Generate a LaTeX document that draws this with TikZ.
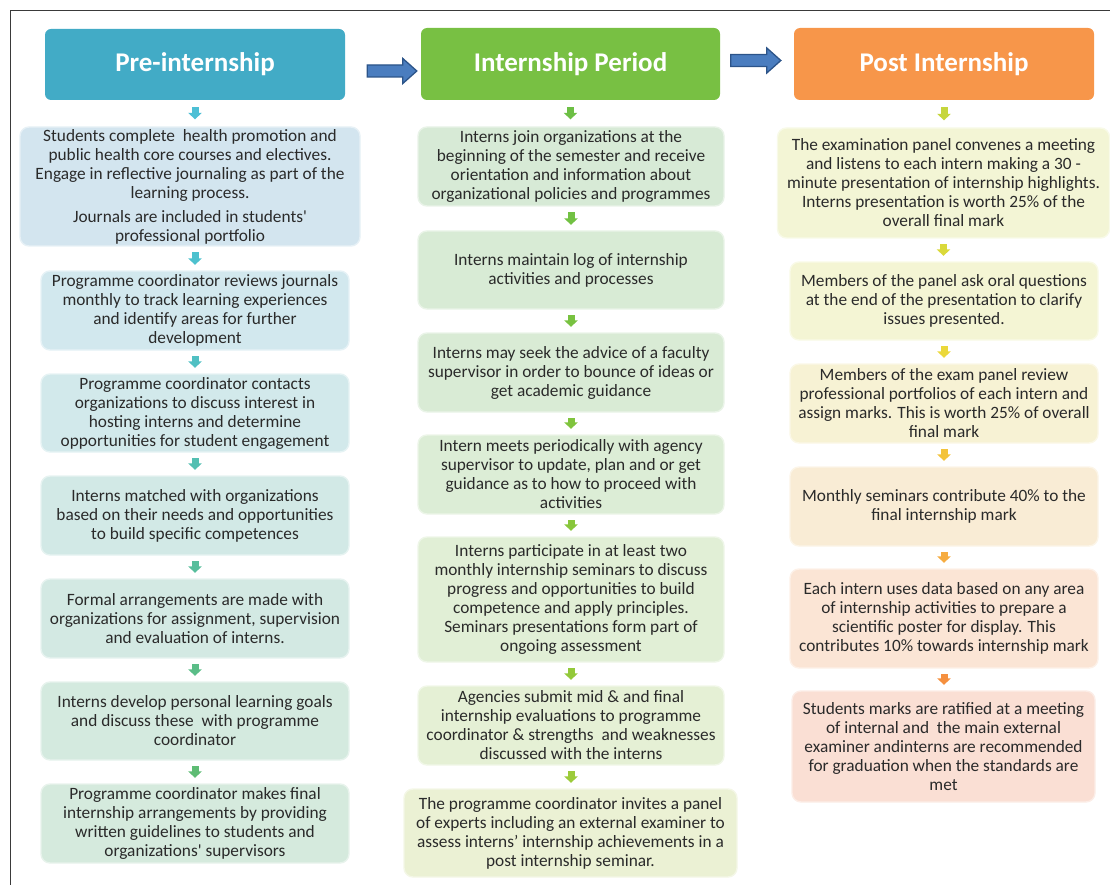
\documentclass[tikz,border=0pt]{standalone}
\usepackage{fontspec}
\setmainfont{Carlito}[Ligatures=TeXOff]
\usetikzlibrary{arrows.meta,calc}

% heading colours
\definecolor{hA}{HTML}{42ABC6}
\definecolor{hB}{HTML}{78C043}
\definecolor{hC}{HTML}{F7964A}
% card fills, column 1
\definecolor{cAa}{HTML}{D3E5EF}
\definecolor{cAb}{HTML}{D2E8EE}
\definecolor{cAc}{HTML}{D2E9EB}
\definecolor{cAd}{HTML}{D2E9E6}
\definecolor{cAe}{HTML}{D3E9E3}
\definecolor{cAf}{HTML}{D4EADF}
\definecolor{cAg}{HTML}{D5EADD}
% card fills, column 2
\definecolor{cBa}{HTML}{D7EAD6}
\definecolor{cBb}{HTML}{D8EBD5}
\definecolor{cBc}{HTML}{D9EBD5}
\definecolor{cBd}{HTML}{DCEDD6}
\definecolor{cBe}{HTML}{E1EFD6}
\definecolor{cBf}{HTML}{E5F0D5}
\definecolor{cBg}{HTML}{EBF1D4}
% card fills, column 3
\definecolor{cCa}{HTML}{F3F5D5}
\definecolor{cCb}{HTML}{F4F5D4}
\definecolor{cCc}{HTML}{F7F2D4}
\definecolor{cCd}{HTML}{F9ECD5}
\definecolor{cCe}{HTML}{FBE5D5}
\definecolor{cCf}{HTML}{FADFD4}
% small arrow colours
\definecolor{aA1}{HTML}{4DBFD5}
\definecolor{aA2}{HTML}{4DC1CE}
\definecolor{aA3}{HTML}{50C0C3}
\definecolor{aA4}{HTML}{53BFB2}
\definecolor{aA5}{HTML}{57BE9C}
\definecolor{aA6}{HTML}{5ABD87}
\definecolor{aA7}{HTML}{5EBC74}
\definecolor{aB1}{HTML}{6DBF45}
\definecolor{aB2}{HTML}{72C143}
\definecolor{aB3}{HTML}{78C240}
\definecolor{aB4}{HTML}{80C43D}
\definecolor{aB5}{HTML}{88C63B}
\definecolor{aB6}{HTML}{93C93A}
\definecolor{aB7}{HTML}{9CCB3A}
\definecolor{aC1}{HTML}{C6D63C}
\definecolor{aC2}{HTML}{DAD93A}
\definecolor{aC3}{HTML}{EBD83A}
\definecolor{aC4}{HTML}{F3C33A}
\definecolor{aC5}{HTML}{F6AC40}
\definecolor{aC6}{HTML}{F5903F}
% ink and block arrows
\definecolor{ink}{HTML}{2A2A2A}
\definecolor{frame}{HTML}{3A3A3A}
\definecolor{bigfill}{HTML}{4A7DBF}
\definecolor{bigline}{HTML}{2C5489}

\newcommand\apos{'}

\begin{document}
\begin{tikzpicture}[x=1pt,y=-1pt,
  heading/.style={fill=#1, rounded corners=6, inner sep=0,
    text=white, font=\fontsize{27}{32}\selectfont\bfseries},
  card/.style={fill=#1, draw=#1!55!white, line width=1.4, rounded corners=9,
    inner sep=0, text=ink, align=center,
    font=\fontsize{17.3}{19}\selectfont},
  downarr/.style={draw=#1, line width=7,
    -{Triangle[width=13.5pt,length=6.5pt]},
    shorten <=5.5pt, shorten >=5.5pt},
  bigarr/.style={fill=bigfill, draw=bigline, line width=1.3, line join=miter}
]
\useasboundingbox (0,0) rectangle (1110,885);

% outer frame (top and left edges)
\draw[frame, line width=1.3] (1110,10.5) -- (10.5,10.5) -- (10.5,885);

% ---------------- headings ----------------
\node[heading=hA, minimum width=300, minimum height=71] (H1) at (195,64.5) {Pre-internship};
\node[heading=hB, minimum width=299, minimum height=72] (H2) at (570.5,64) {Internship Period};
\node[heading=hC, minimum width=300, minimum height=72] (H3) at (944,64) {Post Internship};

% ---------------- column 1 ----------------
\node[card=cAa, minimum width=340, minimum height=119] (A1) at (190,186.5)
 {Students complete~ health promotion and\\
  public health core courses and electives.\\
  Engage in reflective journaling as part of the\\
  learning process.\\[5pt]
  Journals are included in students\apos\\
  professional portfolio};
\node[card=cAb, minimum width=308, minimum height=79] (A2) at (195,310.5)
 {Programme coordinator reviews journals\\
  monthly to track learning experiences\\
  and identify areas for further\\
  development};
\node[card=cAc, minimum width=308, minimum height=78] (A3) at (195,413)
 {Programme coordinator contacts\\
  organizations to discuss interest in\\
  hosting interns and determine\\
  opportunities for student engagement};
\node[card=cAd, minimum width=308, minimum height=79] (A4) at (195,515.5)
 {Interns matched with organizations\\
  based on their needs and opportunities\\
  to build specific competences};
\node[card=cAe, minimum width=308, minimum height=79] (A5) at (195,618.5)
 {Formal arrangements are made with\\
  organizations for assignment, supervision\\
  and evaluation of interns.};
\node[card=cAf, minimum width=308, minimum height=78] (A6) at (195,721)
 {Interns develop personal learning goals\\
  and discuss these~ with programme\\
  coordinator};
\node[card=cAg, minimum width=308, minimum height=79] (A7) at (195,823.5)
 {Programme coordinator makes final\\
  internship arrangements by providing\\
  written guidelines to students and\\
  organizations\apos\ supervisors};

% ---------------- column 2 ----------------
\node[card=cBa, minimum width=306, minimum height=79] (B1) at (571,166.5)
 {Interns join organizations at the\\
  beginning of the semester and receive\\
  orientation and information about\\
  organizational policies and programmes};
\node[card=cBb, minimum width=306, minimum height=78] (B2) at (571,270)
 {Interns maintain log of internship\\
  activities and processes};
\node[card=cBc, minimum width=306, minimum height=79] (B3) at (571,372.5)
 {Interns may seek the advice of a faculty\\
  supervisor in order to bounce of ideas or\\
  get academic guidance};
\node[card=cBd, minimum width=306, minimum height=79] (B4) at (571,474.5)
 {Intern meets periodically with agency\\
  supervisor to update, plan and or get\\
  guidance as to how to proceed with\\
  activities};
\node[card=cBe, minimum width=306, minimum height=125] (B5) at (571,599.5)
 {Interns participate in at least two\\
  monthly internship seminars to discuss\\
  progress and opportunities to build\\
  competence and apply principles.\\
  Seminars presentations form part of\\
  ongoing assessment};
\node[card=cBf, minimum width=306, minimum height=79] (B6) at (571,725.5)
 {Agencies submit mid \& and final\\
  internship evaluations to programme\\
  coordinator \& strengths~ and weaknesses\\
  discussed with the interns};
\node[card=cBg, minimum width=333, minimum height=88] (B7) at (570.5,833)
 {The programme coordinator invites a panel\\
  of experts including an external examiner to\\
  assess interns’ internship achievements in a\\
  post internship seminar.};

% ---------------- column 3 ----------------
\node[card=cCa, minimum width=332, minimum height=110] (C1) at (943.5,183)
 {The examination panel convenes a meeting\\
  and listens to each intern making a 30 -\\
  minute presentation of internship highlights.\\
  Interns presentation is worth 25\% of the\\
  overall final mark};
\node[card=cCb, minimum width=308, minimum height=78] (C2) at (944,301)
 {Members of the panel ask oral questions\\
  at the end of the presentation to clarify\\
  issues presented.};
\node[card=cCc, minimum width=308, minimum height=79] (C3) at (944,403.5)
 {Members of the exam panel review\\
  professional portfolios of each intern and\\
  assign marks. This is worth 25\% of overall\\
  final mark};
\node[card=cCd, minimum width=308, minimum height=79] (C4) at (944,506.5)
 {Monthly seminars contribute 40\% to the\\
  final internship mark};
\node[card=cCe, minimum width=308, minimum height=99] (C5) at (944,618.5)
 {Each intern uses data based on any area\\
  of internship activities to prepare a\\
  scientific poster for display. This\\
  contributes 10\% towards internship mark};
\node[card=cCf, minimum width=303, minimum height=111] (C6) at (943.5,746.5)
 {Students marks are ratified at a meeting\\
  of internal and~ the main external\\
  examiner andinterns are recommended\\
  for graduation when the standards are\\
  met};

% ---------------- small step arrows ----------------
\draw[downarr=aA1, shorten <=7pt, shorten >=7pt] (H1.south) -- (H1.south |- A1.north);
\draw[downarr=aA2] (A1.south -| A2.north) -- (A2.north);
\draw[downarr=aA3] (A2.south) -- (A3.north);
\draw[downarr=aA4] (A3.south) -- (A4.north);
\draw[downarr=aA5] (A4.south) -- (A5.north);
\draw[downarr=aA6] (A5.south) -- (A6.north);
\draw[downarr=aA7] (A6.south) -- (A7.north);

\draw[downarr=aB1, shorten <=7pt, shorten >=7pt] (H2.south) -- (H2.south |- B1.north);
\draw[downarr=aB2] (B1.south) -- (B2.north);
\draw[downarr=aB3] (B2.south) -- (B3.north);
\draw[downarr=aB4] (B3.south) -- (B4.north);
\draw[downarr=aB5] (B4.south) -- (B5.north);
\draw[downarr=aB6] (B5.south) -- (B6.north);
\draw[downarr=aB7] (B6.south) -- (B6.south |- B7.north);

\draw[downarr=aC1, shorten <=7pt, shorten >=7pt] (H3.south) -- (H3.south |- C1.north);
\draw[downarr=aC2] (C1.south) -- (C1.south |- C2.north);
\draw[downarr=aC3] (C2.south) -- (C3.north);
\draw[downarr=aC4] (C3.south) -- (C4.north);
\draw[downarr=aC5] (C4.south) -- (C5.north);
\draw[downarr=aC6] (C5.south) -- (C5.south |- C6.north);

% ---------------- block arrows between phases ----------------
\coordinate (g1s) at ($(H1.east)+(22,6.5)$);
\coordinate (g1e) at ($(H2.west)+(-4,6.5)$);
\coordinate (g2s) at ($(H2.east)+(10.5,-3.5)$);
\coordinate (g2e) at ($(H3.west)+(-13,-3.5)$);
\foreach \s/\e in {g1s/g1e, g2s/g2e}{
  \draw[bigarr] let \p1=(\s), \p2=(\e) in
    (\x1,\y1+6pt) -- (\x2-14pt,\y1+6pt) -- (\x2-14pt,\y1+12.5pt) --
    (\x2,\y1) -- (\x2-14pt,\y1-12.5pt) -- (\x2-14pt,\y1-6pt) --
    (\x1,\y1-6pt) -- cycle;
}
\end{tikzpicture}
\end{document}
